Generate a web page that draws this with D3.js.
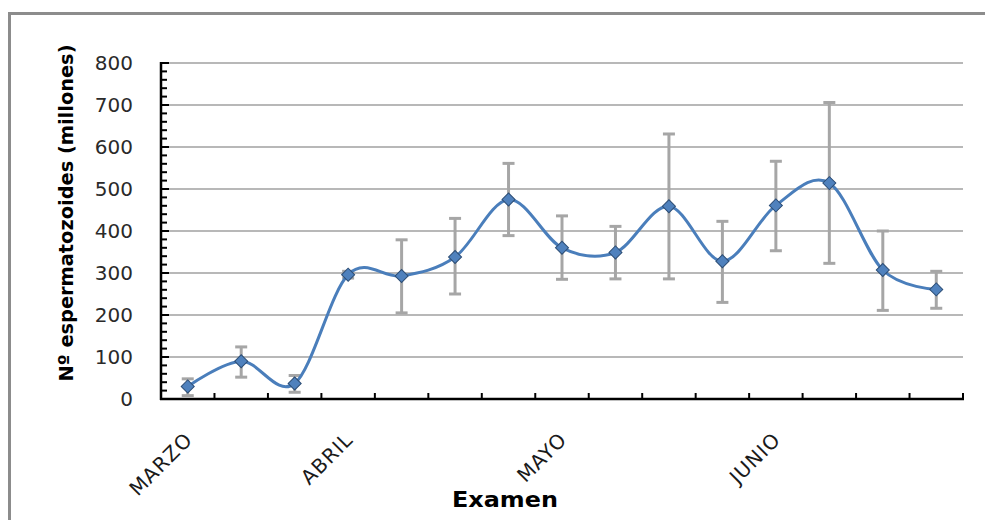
<!DOCTYPE html>
<html>
<head>
<meta charset="utf-8">
<script src="https://cdn.jsdelivr.net/npm/d3@7"></script>
<style>
  body { margin: 0; background: #fff; }
  text { font-family: "DejaVu Sans", Verdana, sans-serif; }
</style>
</head>
<body>
<svg id="chart"></svg>
<script>
// exam number (15 exams), month label shown under some of them
const examenes = d3.range(15);
const meses = ["MARZO", "", "", "ABRIL", "", "", "", "MAYO", "", "", "", "JUNIO", "", "", ""];
// mean sperm count (millions)
const valores = [30, 90, 37, 296, 293, 338, 475, 360, 349, 459, 328, 461, 514, 307, 261];
// error bar bounds
const errSup = [48, 124, 56, 304, 379, 430, 561, 436, 411, 631, 423, 566, 706, 400, 304];
const errInf = [8, 52, 16, 288, 205, 250, 389, 285, 286, 286, 230, 353, 323, 211, 216];
const yTicks = [0, 100, 200, 300, 400, 500, 600, 700, 800];

const W = 985, H = 520;
const margin = { top: 63, right: 22, bottom: 121, left: 161 };
const width = W - margin.left - margin.right;
const height = H - margin.top - margin.bottom;

const svg = d3.select('#chart').attr('width', W).attr('height', H);

// outer frame
svg.append('rect')
    .attr('x', 9.5).attr('y', 13.5)
    .attr('width', 1000).attr('height', 600)
    .attr('fill', 'none')
    .attr('stroke', '#8c8c8c')
    .attr('stroke-width', 3);

const chart = svg.append('g')
    .attr('transform', `translate(${margin.left},${margin.top})`);

const xScale = d3.scaleBand().domain(examenes).range([0, width]);
const yScale = d3.scaleLinear().domain([0, 800]).range([height, 0]);

// gridlines
chart.append('g')
    .selectAll('line')
    .data(yTicks.filter(d => d > 0))
    .join('line')
    .attr('x1', 0).attr('x2', width)
    .attr('y1', d => yScale(d)).attr('y2', d => yScale(d))
    .attr('stroke', '#a0a0a0')
    .attr('stroke-width', 1.5);

// y axis: major ticks inside, minor every 20
const yAxisG = chart.append('g');
yAxisG.selectAll('.minor')
    .data(d3.range(0, 801, 20))
    .join('line')
    .attr('x1', 0).attr('x2', d => d % 100 === 0 ? 8 : 6)
    .attr('y1', d => yScale(d)).attr('y2', d => yScale(d))
    .attr('stroke', '#000')
    .attr('stroke-width', 2);
yAxisG.append('line')
    .attr('x1', 0).attr('x2', 0)
    .attr('y1', -1).attr('y2', height + 1)
    .attr('stroke', '#000').attr('stroke-width', 2.5);
yAxisG.selectAll('.ylab')
    .data(yTicks)
    .join('text')
    .attr('x', -28)
    .attr('y', d => yScale(d))
    .attr('dy', '0.36em')
    .attr('text-anchor', 'end')
    .attr('fill', '#2a2a2a')
    .style('font-size', '20px')
    .text(d => d);

// x axis
const xAxisG = chart.append('g').attr('transform', `translate(0,${height})`);
xAxisG.append('line')
    .attr('x1', -1).attr('x2', width + 1)
    .attr('stroke', '#000').attr('stroke-width', 2.5);
xAxisG.selectAll('.xtick')
    .data(d3.range(1, 16))
    .join('line')
    .attr('x1', i => i * xScale.step()).attr('x2', i => i * xScale.step())
    .attr('y1', 0).attr('y2', -6)
    .attr('stroke', '#000').attr('stroke-width', 2);
xAxisG.selectAll('.mes')
    .data(examenes.filter(i => meses[i] !== ''))
    .join('text')
    .attr('transform', i => `translate(${xScale(i) + xScale.bandwidth() / 2 + 6},${42}) rotate(-45)`)
    .attr('text-anchor', 'end')
    .attr('fill', '#1a1a1a')
    .style('font-size', '20px')
    .style('letter-spacing', '1px')
    .text(i => meses[i]);

// axis titles
svg.append('text')
    .attr('transform', `translate(73,213) rotate(-90)`)
    .attr('text-anchor', 'middle')
    .attr('font-weight', 'bold')
    .attr('textLength', 337)
    .attr('lengthAdjust', 'spacingAndGlyphs')
    .style('font-size', '20px')
    .text('Nº espermatozoides (millones)');
svg.append('text')
    .attr('x', 505).attr('y', 507)
    .attr('text-anchor', 'middle')
    .attr('font-weight', 'bold')
    .attr('textLength', 106)
    .attr('lengthAdjust', 'spacingAndGlyphs')
    .style('font-size', '21px')
    .text('Examen');

const cx = i => xScale(i) + xScale.bandwidth() / 2;

// error bars
const err = chart.append('g').attr('stroke', '#a6a6a6').attr('stroke-width', 3);
err.selectAll('.bar')
    .data(examenes)
    .join('line')
    .attr('x1', cx).attr('x2', cx)
    .attr('y1', i => yScale(errSup[i])).attr('y2', i => yScale(errInf[i]));
err.selectAll('.capT')
    .data(examenes)
    .join('line')
    .attr('x1', i => cx(i) - 6).attr('x2', i => cx(i) + 6)
    .attr('y1', i => yScale(errSup[i])).attr('y2', i => yScale(errSup[i]));
err.selectAll('.capB')
    .data(examenes)
    .join('line')
    .attr('x1', i => cx(i) - 6).attr('x2', i => cx(i) + 6)
    .attr('y1', i => yScale(errInf[i])).attr('y2', i => yScale(errInf[i]));

// smoothed line
const line = d3.line()
    .x(i => cx(i))
    .y(i => yScale(valores[i]))
    .curve(d3.curveCatmullRom.alpha(0));
chart.append('path')
    .datum(examenes)
    .attr('d', line)
    .attr('fill', 'none')
    .attr('stroke', '#4a7ebb')
    .attr('stroke-width', 3);

// diamond markers
chart.selectAll('.marker')
    .data(examenes)
    .join('path')
    .attr('d', d3.symbol(d3.symbolSquare, 85))
    .attr('transform', i => `translate(${cx(i)},${yScale(valores[i])}) rotate(45)`)
    .attr('fill', '#4f81bd')
    .attr('stroke', '#2c4d75')
    .attr('stroke-width', 1);
</script>
</body>
</html>
